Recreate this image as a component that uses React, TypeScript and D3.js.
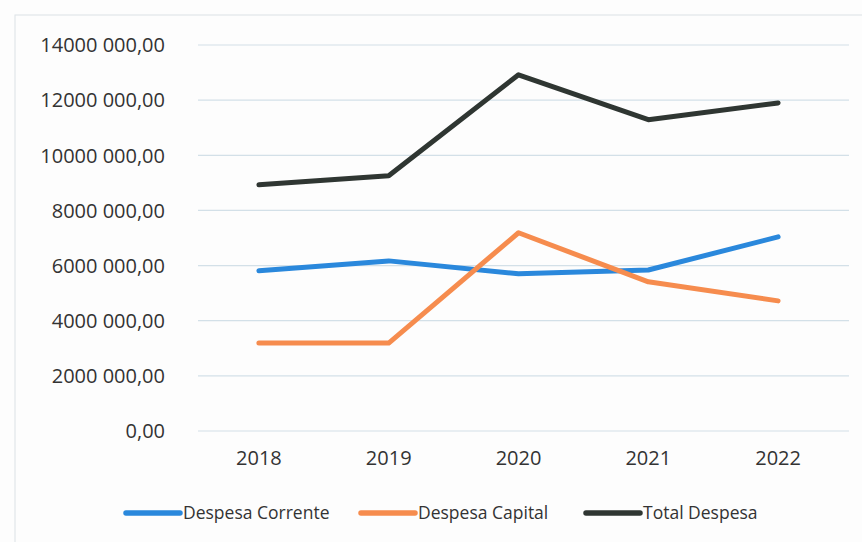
import { useEffect, useRef } from "react";
import * as d3 from "d3";

const years = ["2018", "2019", "2020", "2021", "2022"];
const despesaCorrente = [5810000, 6170000, 5700000, 5840000, 7040000];
const despesaCapital = [3190000, 3190000, 7190000, 5410000, 4720000];
const totalDespesa = [8930000, 9260000, 12920000, 11290000, 11900000];
const yTicks = [0, 2000000, 4000000, 6000000, 8000000, 10000000, 12000000, 14000000];

const seriesNames = ["Despesa Corrente", "Despesa Capital", "Total Despesa"];
const seriesColors = ["#2a88dc", "#f68c4e", "#2f3632"];

const W = 862;
const H = 542;
const FONT = "'Open Sans', 'Noto Sans', sans-serif";

// 14000 000,00 style
const fmt = (v: number) => {
  const s = v.toFixed(2).replace(".", ",");
  const [int, dec] = s.split(",");
  if (int.length <= 3) return `${int},${dec}`;
  return `${int.slice(0, int.length - 3)} ${int.slice(-3)},${dec}`;
};

export default function App() {
  const svgRef = useRef<SVGSVGElement>(null);

  useEffect(() => {
    if (!svgRef.current) return;
    const svg = d3.select(svgRef.current);
    svg.selectAll("*").remove();

    const margin = { top: 45, right: 19, bottom: 111, left: 194 };
    const width = W - margin.left - margin.right;
    const height = H - margin.top - margin.bottom;

    svg.append("rect").attr("width", W).attr("height", H).attr("fill", "#fdfdfd");

    // chart frame
    svg
      .append("rect")
      .attr("x", 15)
      .attr("y", 15)
      .attr("width", W + 20)
      .attr("height", H + 20)
      .attr("fill", "none")
      .attr("stroke", "#dce2e6")
      .attr("stroke-width", 1);

    const g = svg.append("g").attr("transform", `translate(${margin.left},${margin.top})`);

    const x = d3.scaleBand().domain(years).range([0, width]);
    const y = d3.scaleLinear().domain([0, 14000000]).range([height, 0]);

    // Gridlines
    g.append("g")
      .selectAll("line")
      .data(yTicks)
      .join("line")
      .attr("x1", 4)
      .attr("x2", width + 6)
      .attr("y1", (d) => y(d))
      .attr("y2", (d) => y(d))
      .attr("stroke", "#d3e0e8")
      .attr("stroke-width", 1.2);

    // Y axis
    g.append("g")
      .call(d3.axisLeft(y).tickValues(yTicks).tickSize(0).tickFormat((d) => fmt(d as number)))
      .call((axis) => {
        axis.select(".domain").remove();
        axis
          .selectAll(".tick text")
          .attr("font-family", FONT)
          .attr("font-size", 20)
          .attr("fill", "#333")
          .attr("x", -29)
          .attr("dy", "0.34em");
      });

    // X axis
    g.append("g")
      .attr("transform", `translate(0,${height})`)
      .call(d3.axisBottom(x).tickSize(0))
      .call((axis) => {
        axis.select(".domain").remove();
        axis
          .selectAll(".tick text")
          .attr("font-family", FONT)
          .attr("font-size", 20)
          .attr("fill", "#333")
          .attr("y", 20);
      });

    const cx = (d: string) => (x(d) ?? 0) + x.bandwidth() / 2;
    const line = d3
      .line<number>()
      .x((_, i) => cx(years[i]))
      .y((d) => y(d));

    [despesaCorrente, despesaCapital, totalDespesa].forEach((s, i) => {
      g.append("path")
        .datum(s)
        .attr("fill", "none")
        .attr("stroke", seriesColors[i])
        .attr("stroke-width", 5)
        .attr("stroke-linejoin", "round")
        .attr("stroke-linecap", "round")
        .attr("d", line);
    });

    // Legend
    const legendX = [126, 361, 586];
    const legend = svg.append("g").attr("transform", `translate(0,513)`);
    seriesNames.forEach((name, i) => {
      legend
        .append("line")
        .attr("x1", legendX[i])
        .attr("x2", legendX[i] + 54)
        .attr("y1", 0)
        .attr("y2", 0)
        .attr("stroke", seriesColors[i])
        .attr("stroke-width", 5.5)
        .attr("stroke-linecap", "round");
      legend
        .append("text")
        .attr("x", legendX[i] + 57)
        .attr("y", 0)
        .attr("dy", "0.35em")
        .attr("font-family", FONT)
        .attr("font-size", 17.5)
        .attr("fill", "#333")
        .text(name);
    });
  }, []);

  return (
    <svg
      ref={svgRef}
      width={W}
      height={H}
      style={{ position: "absolute", left: 0, top: 0 }}
      viewBox={`0 0 ${W} ${H}`}
    />
  );
}
